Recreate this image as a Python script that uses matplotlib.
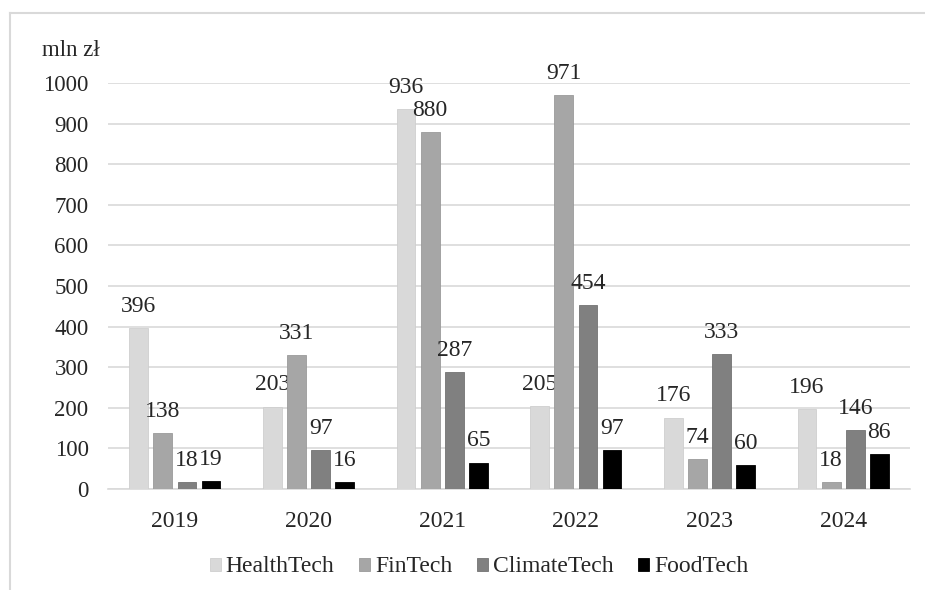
import numpy as np
import matplotlib.pyplot as plt
from matplotlib.lines import Line2D

years = ["2019", "2020", "2021", "2022", "2023", "2024"]
health = [396, 203, 936, 205, 176, 196]
fintech = [138, 331, 880, 971, 74, 18]
climate = [18, 97, 287, 454, 333, 146]
food = [19, 16, 65, 97, 60, 86]

series = [("HealthTech", health, "#d9d9d9", "#cfcfcf"),
          ("FinTech", fintech, "#a6a6a6", "#9a9a9a"),
          ("ClimateTech", climate, "#808080", "#737373"),
          ("FoodTech", food, "#000000", "#000000")]

plt.rcParams["font.family"] = ["Liberation Serif", "DejaVu Serif"]
txt = "#262626"
fs = 17

fig = plt.figure(figsize=(9.25, 5.9), dpi=100)
ax = fig.add_axes([0.1168, 0.1712, 0.867, 0.688])

x = np.arange(len(years))
w = 0.14
step = 0.18
for i, (name, vals, col, edge) in enumerate(series):
    pos = x + (i - 1.5) * step
    bars = ax.bar(pos, vals, w, color=col, edgecolor=edge, linewidth=0.6, label=name, zorder=3)
    ax.bar_label(bars, padding=8, fontsize=fs, color=txt)

ax.set_xlim(-0.5, len(years) - 0.5)
ax.set_ylim(0, 1000)
ax.set_yticks(range(0, 1001, 100))
ax.set_xticks(x)
ax.set_xticklabels(years)
ax.tick_params(axis="y", length=0, pad=14, labelsize=16.5, labelcolor=txt)
ax.tick_params(axis="x", length=0, pad=16, labelsize=fs, labelcolor=txt)
ax.grid(axis="y", color="#d9d9d9", linewidth=1.2, zorder=0)
for s in ["top", "right", "left"]:
    ax.spines[s].set_visible(False)
ax.spines["bottom"].set_color("#d9d9d9")
ax.spines["bottom"].set_linewidth(1.2)

fig.text(42 / 925, 1 - 50 / 590, "mln zł", fontsize=16.5, color=txt, va="center", ha="left")

ax.legend(loc="center", bbox_to_anchor=(479 / 925, 1 - 567 / 590), bbox_transform=fig.transFigure,
          ncol=4, frameon=False, fontsize=fs, handlelength=0.47, handleheight=0.47,
          handletextpad=0.2, columnspacing=1.05, labelcolor=txt, borderpad=0)

# frame around the chart area
fig.add_artist(Line2D([10 / 925, 1], [1 - 13 / 590] * 2, color="#d9d9d9", linewidth=1.5))
fig.add_artist(Line2D([10 / 925] * 2, [0, 1 - 13 / 590], color="#d9d9d9", linewidth=1.5))

fig.savefig("out.png", dpi=100)
